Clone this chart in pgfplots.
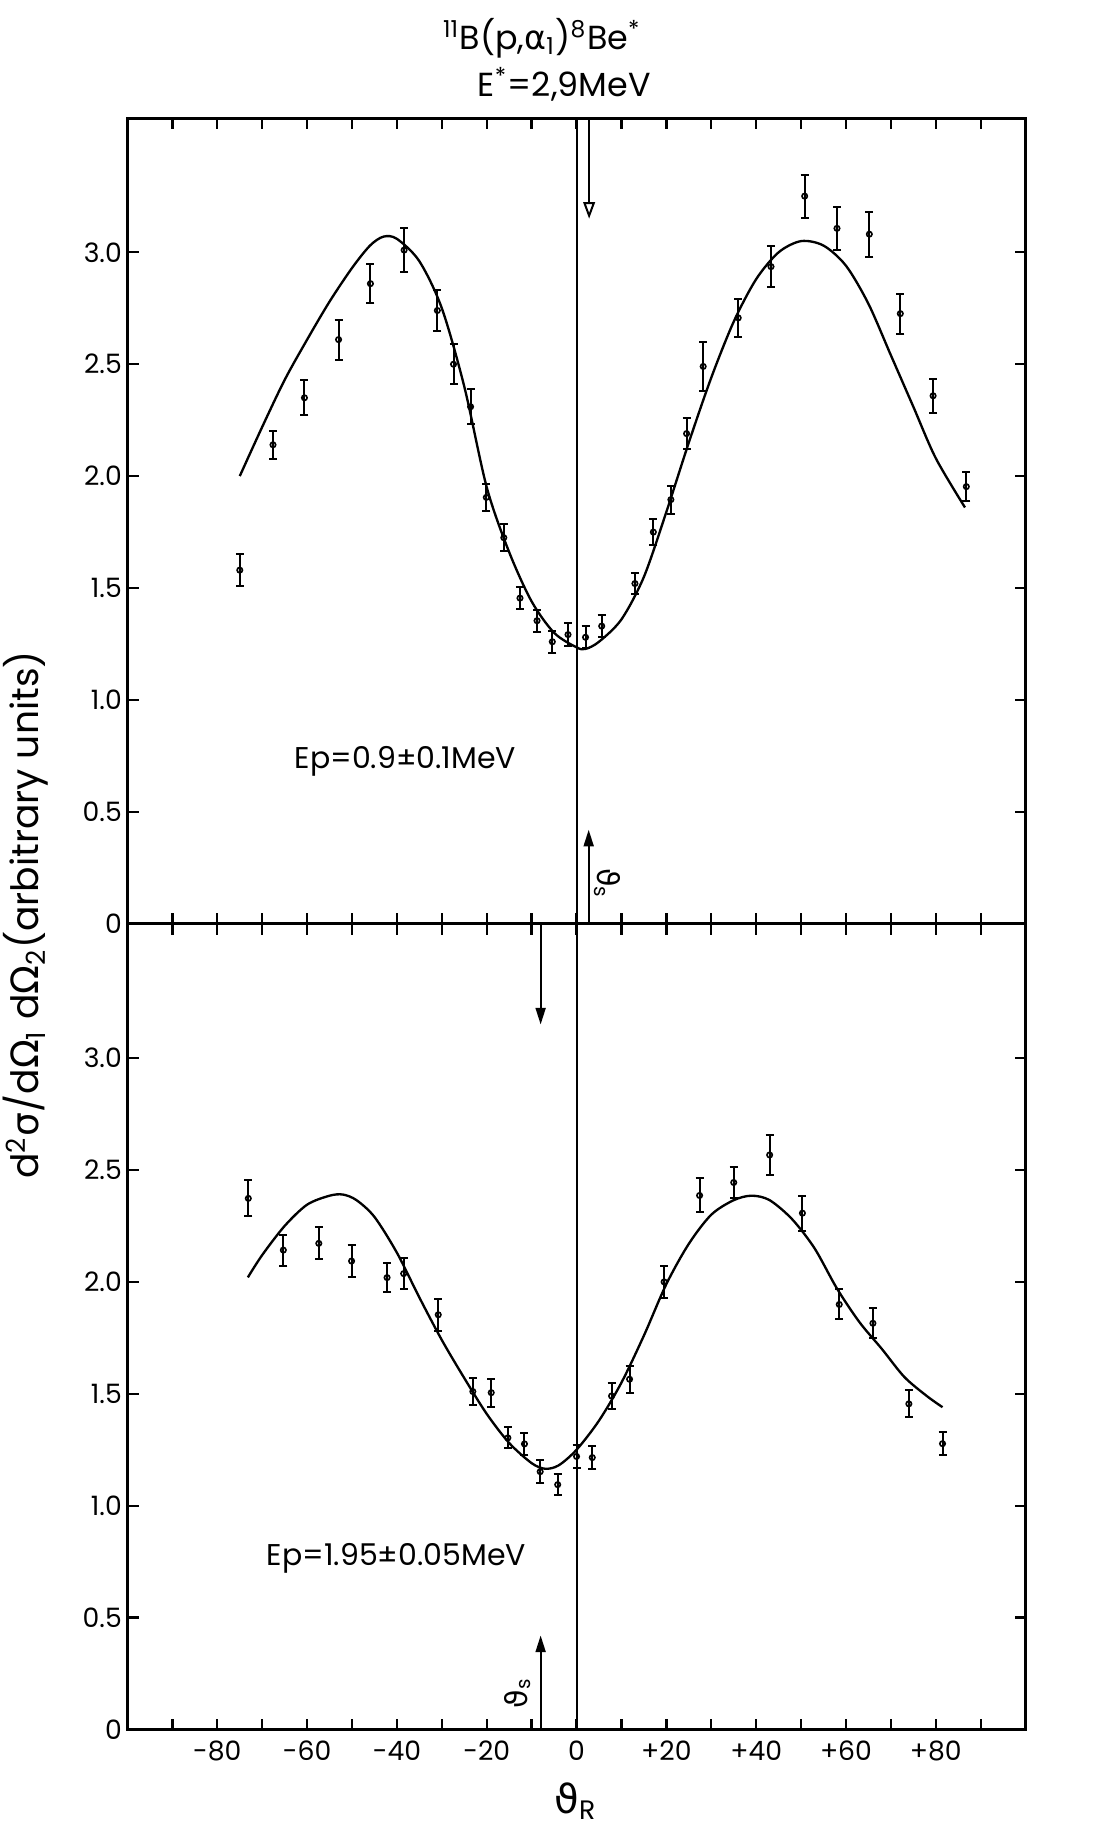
\documentclass[border=0pt]{standalone}
\usepackage{fontspec}
\setmainfont{Poppins}
\newfontfamily\grk{DejaVu Sans}
\usepackage{pgfplots}
\usepackage{pgfplotstable}
\pgfplotsset{compat=1.18}
\usetikzlibrary{arrows.meta}

% Ep = 0.9 MeV, measured points
\pgfplotstableread{
x y e
-75.0 1.58 0.070
-67.6 2.14 0.063
-60.6 2.35 0.078
-53.0 2.61 0.089
-45.9 2.86 0.088
-38.4 3.01 0.100
-31.0 2.74 0.090
-27.4 2.50 0.090
-23.6 2.31 0.079
-20.1 1.905 0.062
-16.2 1.725 0.061
-12.6 1.455 0.050
-8.8 1.354 0.050
-5.4 1.26 0.050
-1.9 1.292 0.050
2.0 1.28 0.050
5.6 1.33 0.050
13.0 1.52 0.045
17.1 1.75 0.057
21.0 1.895 0.063
24.5 2.19 0.070
28.2 2.49 0.108
36.0 2.707 0.084
43.3 2.936 0.091
50.8 3.251 0.096
58.0 3.107 0.097
65.2 3.081 0.100
72.1 2.726 0.089
79.4 2.359 0.076
86.8 1.953 0.065
}\upperdata

% Ep = 0.9 MeV, fitted curve
\pgfplotstableread{
x y
-75 2.00
-70 2.22
-65 2.43
-60 2.61
-55 2.78
-50 2.93
-46 3.03
-43 3.07
-40 3.06
-35 2.96
-30 2.75
-25 2.40
-20 1.95
-15 1.66
-10 1.44
-5 1.30
0 1.235
2 1.228
5 1.26
10 1.36
15 1.55
20 1.84
25 2.15
30 2.44
35 2.69
40 2.88
45 3.00
50 3.05
55 3.03
60 2.94
65 2.77
70 2.54
75 2.31
80 2.08
86.5 1.86
}\uppercurve

% Ep = 1.95 MeV, measured points
\pgfplotstableread{
x y e
-73.1 2.373 0.080
-65.3 2.142 0.069
-57.4 2.172 0.072
-50.1 2.093 0.072
-42.2 2.019 0.066
-38.5 2.037 0.068
-30.8 1.853 0.071
-23.1 1.51 0.060
-19.0 1.505 0.063
-15.3 1.303 0.047
-11.6 1.276 0.050
-8.1 1.152 0.050
-4.2 1.094 0.047
0.0 1.22 0.053
3.5 1.215 0.053
7.8 1.49 0.060
11.8 1.565 0.060
19.5 2.00 0.070
27.4 2.386 0.076
35.0 2.444 0.070
43.0 2.567 0.091
50.3 2.307 0.078
58.5 1.899 0.067
66.0 1.815 0.067
74.0 1.455 0.060
81.5 1.277 0.050
}\lowerdata

% Ep = 1.95 MeV, fitted curve
\pgfplotstableread{
x y
-73.2 2.02
-70 2.12
-65 2.25
-60 2.345
-55 2.385
-52 2.39
-49 2.365
-45 2.29
-40 2.13
-35 1.93
-30 1.74
-25 1.57
-20 1.41
-15 1.28
-10 1.19
-7 1.165
-4 1.18
0 1.25
5 1.38
10 1.55
15 1.76
20 1.99
25 2.17
30 2.30
35 2.365
39 2.385
43 2.365
48 2.28
53 2.15
58 1.97
63 1.82
68 1.70
73 1.575
78 1.49
81.5 1.44
}\lowercurve

\begin{document}
\begin{tikzpicture}
\pgfplotsset{
  panel/.style={
    scale only axis, width=269.4pt, height=241.7pt,
    xmin=-100, xmax=100, ymin=0, ymax=3.6,
    xtick={-90,-80,...,90}, ytick={0,0.5,...,3.0},
    yticklabels={0,0.5,1.0,1.5,2.0,2.5,3.0},
    tick align=inside, major tick length=3.3pt,
    axis line style={line width=0.9pt},
    tick style={black, line width=0.7pt},
    yticklabel style={font=\fontsize{8}{9}\selectfont, inner sep=1.5pt},
    xticklabel style={font=\fontsize{8}{9}\selectfont},
  },
  pts/.style={only marks, mark=o, mark size=0.8pt, black, line width=0.5pt,
    error bars/.cd, y dir=both, y explicit,
    error bar style={line width=0.6pt},
    error mark options={rotate=90, mark size=1.2pt, line width=0.6pt}},
  fit/.style={no marks, smooth, black, line width=0.7pt},
}

\begin{axis}[panel, name=top, xticklabels={}]
  \draw[line width=0.6pt] (axis cs:0,0) -- (axis cs:0,3.6);
  \addplot[fit] table[x=x, y=y] {\uppercurve};
  \addplot[pts] table[x=x, y=y, y error=e] {\upperdata};
  \draw[line width=0.6pt, -{Triangle[open, length=5pt, width=3.5pt]}]
    (axis cs:2.8,3.6) -- (axis cs:2.8,3.15);
  \draw[line width=0.6pt, -{Triangle[length=5pt, width=3pt]}]
    (axis cs:2.7,0) -- (axis cs:2.7,0.42);
  \node[rotate=-90, font=\fontsize{9}{10}\selectfont] at (axis cs:6.9,0.18)
    {{\grk ϑ}\textsubscript{s}};
  \node[font=\fontsize{9}{10}\selectfont] at (axis cs:-38.1,0.725)
    {Ep=0.9±0.1MeV};
\end{axis}

\begin{axis}[panel, name=bot, at={(top.south west)}, anchor=north west,
  xticklabels={,-80,,-60,,-40,,-20,,0,,+20,,+40,,+60,,+80,}]
  \draw[line width=0.6pt] (axis cs:0,0) -- (axis cs:0,3.6);
  \addplot[fit] table[x=x, y=y] {\lowercurve};
  \addplot[pts] table[x=x, y=y, y error=e] {\lowerdata};
  \draw[line width=0.6pt, -{Triangle[length=5pt, width=3pt]}]
    (axis cs:-8,3.6) -- (axis cs:-8,3.15);
  \draw[line width=0.6pt, -{Triangle[length=5pt, width=3pt]}]
    (axis cs:-8,0) -- (axis cs:-8,0.42);
  \node[rotate=90, font=\fontsize{9}{10}\selectfont] at (axis cs:-13.1,0.163)
    {{\grk ϑ}\textsubscript{s}};
  \node[font=\fontsize{9}{10}\selectfont] at (axis cs:-40.1,0.765)
    {Ep=1.95±0.05MeV};
\end{axis}

% title, axis labels
\node[font=\fontsize{10}{12}\selectfont]
  at ([xshift=124.4pt, yshift=24pt]top.north west)
  {\textsuperscript{11}B(p,{\grk α}\textsubscript{1})\textsuperscript{8}Be\textsuperscript{*}};
\node[font=\fontsize{10}{12}\selectfont]
  at ([xshift=131pt, yshift=10pt]top.north west)
  {E\textsuperscript{*}=2,9MeV};
\node[font=\fontsize{12}{14}\selectfont]
  at ([xshift=134.4pt, yshift=-21.5pt]bot.south west)
  {{\grk ϑ}\textsubscript{R}};
\node[rotate=90, font=\fontsize{11.3}{13}\selectfont]
  at ([xshift=-30.5pt, yshift=2.7pt]top.south west)
  {d\textsuperscript{2}{\grk σ}/d{\grk Ω}\textsubscript{1} d{\grk Ω}\textsubscript{2}(arbitrary units)};

\pgfresetboundingbox
\path[use as bounding box] ([xshift=-38.25pt, yshift=-30.45pt]bot.south west)
  rectangle ([xshift=21.45pt, yshift=35.4pt]top.north east);
\end{tikzpicture}
\end{document}
